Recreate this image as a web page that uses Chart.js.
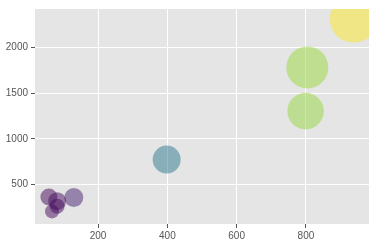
<!DOCTYPE html>
<html>
<head>
<meta charset="utf-8">
<script src="https://cdn.jsdelivr.net/npm/chart.js@4.4.1/dist/chart.umd.min.js"></script>
<style>
  html, body { margin: 0; padding: 0; background: #fff; }
  #wrap { width: 376px; height: 246px; }
</style>
</head>
<body>
<div id="wrap"><canvas id="bubbleChart"></canvas></div>
<script>
  // ── Data ──
  const xValues = [938, 804, 799, 398, 58, 130, 82, 82, 67];
  const yValues = [2318, 1783, 1304, 772, 362, 355, 315, 261, 203];
  const sizes = [24, 21, 18.3, 14, 8.5, 9.5, 9, 7.5, 7];
  const colorLevel = [1.0, 0.85, 0.84, 0.4, 0.01, 0.09, 0.035, 0.03, 0.02];
  const xTicks = [200, 400, 600, 800];
  const yTicks = [500, 1000, 1500, 2000];

  const GRID = '#ffffff';
  const PANEL = '#e5e5e5';
  const TEXT = '#555555';

  // viridis stops
  const VIRIDIS = ['#440154', '#482475', '#414487', '#355f8d', '#2a788e',
    '#21918c', '#22a884', '#44bf70', '#7ad151', '#bddf26', '#fde725'];

  function viridis(t, alpha) {
    const p = Math.max(0, Math.min(1, t)) * 10;
    const i = Math.min(9, Math.floor(p));
    const f = p - i;
    const a = hex(VIRIDIS[i]), b = hex(VIRIDIS[i + 1]);
    const c = a.map((v, k) => Math.round(v + (b[k] - v) * f));
    return `rgba(${c[0]},${c[1]},${c[2]},${alpha})`;
  }
  function hex(h) {
    return [1, 3, 5].map(i => parseInt(h.substr(i, 2), 16));
  }

  const panelBg = {
    id: 'panelBg',
    beforeDraw(chart) {
      const { ctx, chartArea: a } = chart;
      ctx.save();
      ctx.fillStyle = PANEL;
      ctx.fillRect(a.left, a.top, a.right - a.left, a.bottom - a.top);
      ctx.restore();
    }
  };

  const tickFont = { family: "'Liberation Sans', Arial, sans-serif", size: 10 };

  new Chart(document.getElementById('bubbleChart'), {
    type: 'bubble',
    data: {
      datasets: [{
        data: xValues.map((x, i) => ({ x, y: yValues[i], r: sizes[i] })),
        backgroundColor: colorLevel.map(t => viridis(t, 0.5)),
        borderWidth: 0,
        hoverRadius: 0,
        clip: 0
      }]
    },
    options: {
      responsive: true,
      maintainAspectRatio: false,
      animation: false,
      events: [],
      layout: { autoPadding: false, padding: { top: 7, right: 7, left: 0, bottom: 0 } },
      plugins: { legend: { display: false }, tooltip: { enabled: false } },
      scales: {
        x: {
          type: 'linear',
          min: 18,
          max: 982,
          afterBuildTicks: s => { s.ticks = xTicks.map(v => ({ value: v })); },
          afterFit: s => { s.height = 22; },
          border: { display: false },
          grid: { color: GRID, lineWidth: 1, tickColor: TEXT, tickLength: 4 },
          ticks: { color: TEXT, font: tickFont, padding: 2, maxRotation: 0, callback: v => String(v) }
        },
        y: {
          type: 'linear',
          min: 65,
          max: 2424,
          afterBuildTicks: s => { s.ticks = yTicks.map(v => ({ value: v })); },
          afterFit: s => { s.width = 35; },
          border: { display: false },
          grid: { color: GRID, lineWidth: 1, tickColor: TEXT, tickLength: 4 },
          ticks: { color: TEXT, font: tickFont, padding: 3, callback: v => String(v) }
        }
      }
    },
    plugins: [panelBg]
  });
</script>
</body>
</html>
